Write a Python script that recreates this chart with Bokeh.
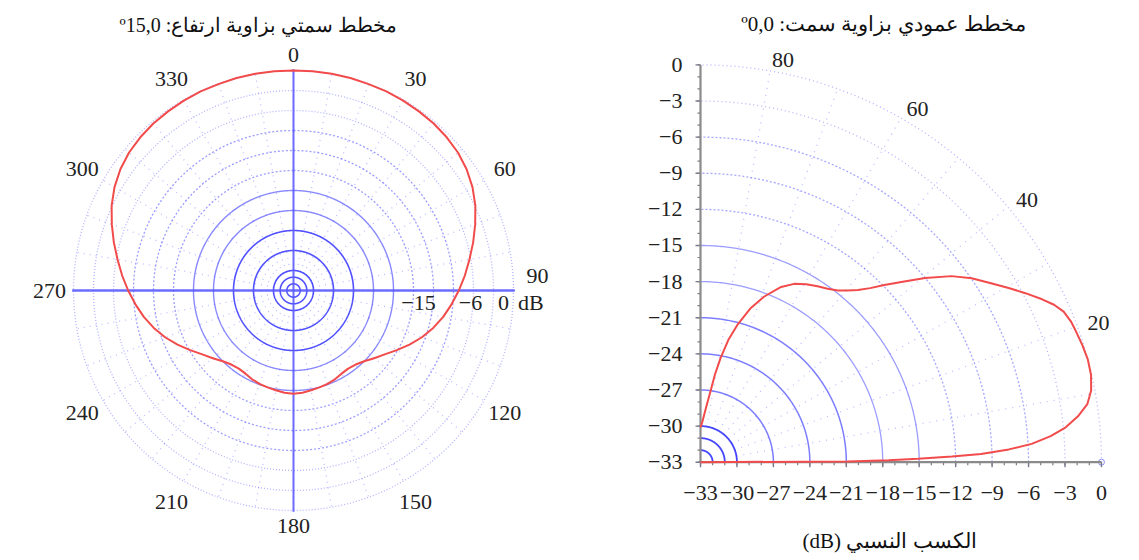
import numpy as np
from bokeh.plotting import figure
from bokeh.layouts import row
from bokeh.core.properties import value
from bokeh.embed import file_html
from bokeh.resources import INLINE

# ---------------- data ----------------
DB_MIN = -33.0

AZ_ANGLES = list(range(0, 360, 5))
AZ_GAIN = [0.0, 0.0, 0.0, 0.0, -0.05, -0.05, -0.1, -0.2, -0.3, -0.5, -0.8, -1.3,
           -2.0, -2.9, -4.0, -5.1, -6.2, -7.2, -8.2, -9.2, -10.2, -11.3, -12.5, -13.8,
           -15.1, -16.3, -17.2, -18.0, -18.5, -18.7, -18.6, -18.3, -18.1, -17.95, -17.8, -17.6,
           -17.5,
           -17.6, -17.8, -17.95, -18.1, -18.3, -18.6, -18.7, -18.5, -18.0, -17.2, -16.3, -15.1,
           -13.8, -12.5, -11.3, -10.2, -9.2, -8.2, -7.2, -6.2, -5.1, -4.0, -2.9, -2.0,
           -1.3, -0.8, -0.5, -0.3, -0.2, -0.1, -0.05, -0.05, 0.0, 0.0, 0.0]

AZ_LABEL_ANGLES = [0, 30, 60, 90, 120, 150, 180, 210, 240, 270, 300, 330]
AZ_LABELS = ["0", "30", "60", "90", "120", "150", "180", "210", "240", "270", "300", "330"]

RING_DB = [-32, -31, -30, -27, -24, -21, -18, -15, -12, -9, -6, -3, 0]
RING_LABEL_DB = [-15, -6, 0]
RING_LABELS = ["\u221215", "\u22126", "0"]

EL_ANGLES = [0, 0.3, 0.6, 0.9, 1.3, 1.7, 2.4, 3.2, 4.3, 5.5, 7.0, 8.6, 10.5, 12.7, 15.0,
             17.2, 19.5, 21.0, 22.7, 24.2, 25.7, 27.7, 29.7, 32.0, 34.4, 36.8, 39.6, 42.0,
             44.2, 46.0, 47.8, 49.7, 51.6, 54.0, 56.6, 59.5, 62.5, 65.5, 69.2, 72.2, 75.1,
             77.3, 79.2, 80.7, 82.0, 84.0, 86.0, 88.0, 90.0]
EL_GAIN = [-33.0, -20.9, -17.5, -15.1, -12.3, -9.9, -7.6, -5.7, -4.1, -2.8, -1.7, -0.8, -0.3,
           -0.05, 0.0, -0.1, -0.25, -0.35, -0.6, -1.1, -1.8, -2.8, -3.8, -4.9, -5.95, -7.2,
           -9.0, -10.6, -11.9, -12.9, -13.7, -14.3, -14.8, -15.2, -15.5, -15.85, -16.3, -17.0,
           -18.3, -19.6, -21.2, -22.6, -24.2, -25.6, -27.0, -28.3, -29.2, -29.8, -30.1]
EL_LABEL_ANGLES = [80, 60, 40, 20]
EL_LABELS = ["80", "60", "40", "20"]
EL_SPOKES = [10, 20, 30, 40, 50, 60, 70, 80]

TICKS = list(range(-33, 1, 3))
MINOR_TICKS = list(range(-33, 1, 1))
TICK_LABELS = [("\u2212%d" % -t if t < 0 else "0") for t in TICKS]

LEFT_TITLE = "مخطط سمتي بزاوية ارتفاع: º15,0"
RIGHT_TITLE = "مخطط عمودي بزاوية سمت: º0,0"
X_LABEL = "الكسب النسبي (dB)"


def rtl(s):
    return "\u202b" + s + "\u202c"


BLUE = "#2626ff"
RED = "#f24b4b"
SERIF = "Liberation Serif"
FS = "22px"
TXT = "#222222"

# ---------------- left: azimuth polar ----------------
S = 20.0 / 3.0  # px per dB
p1 = figure(width=590, height=560, x_range=(-293 / S, 297 / S), y_range=(-270 / S, 290 / S),
            output_backend="svg", toolbar_location=None, x_axis_type=None, y_axis_type=None,
            min_border=0, min_border_left=0, min_border_right=0, min_border_top=0, min_border_bottom=0)
p1.grid.visible = False
p1.outline_line_color = None

t = np.linspace(0, 2 * np.pi, 721)
rings = [d - DB_MIN for d in RING_DB]
groups = [([r for r in rings if r <= 9], 0.8, 1.6, "solid"),
          ([r for r in rings if 9 < r <= 15], 0.55, 1.4, "solid"),
          ([r for r in rings if 15 < r <= 24], 0.45, 1.3, "2 2"),
          ([r for r in rings if r > 24], 0.35, 1.3, "1 2")]
for rs, a, w, dash in groups:
    if rs:
        p1.multi_line([list(r * np.sin(t)) for r in rs], [list(r * np.cos(t)) for r in rs],
                      line_color=BLUE, line_alpha=a, line_width=w, line_dash=dash)

sp = np.radians(np.arange(0, 360, 10))
p1.segment(x0=3 * np.sin(sp), y0=3 * np.cos(sp), x1=33 * np.sin(sp), y1=33 * np.cos(sp),
           line_color=BLUE, line_alpha=0.3, line_width=1.3, line_dash="1 5")

R_AX = 33.2
p1.segment(x0=[-R_AX], y0=[0], x1=[R_AX], y1=[0], line_color="#5c5cff", line_width=2.6, line_alpha=0.9)
p1.segment(x0=[0], y0=[-R_AX], x1=[0], y1=[R_AX], line_color="#5c5cff", line_width=2.0, line_alpha=0.9)

az = np.radians(AZ_ANGLES + [AZ_ANGLES[0]])
ar = np.array(AZ_GAIN + [AZ_GAIN[0]]) - DB_MIN
p1.line(ar * np.sin(az), ar * np.cos(az), line_color=RED, line_width=2)

la = np.radians(AZ_LABEL_ANGLES)
lr = np.array([35.3 if a in (0, 180) else 36.6 for a in AZ_LABEL_ANGLES])
ldy = np.array([2.2 if a == 90 else 0.0 for a in AZ_LABEL_ANGLES])
p1.text(x=lr * np.sin(la), y=lr * np.cos(la) + ldy, text=AZ_LABELS, text_font=value(SERIF),
        text_font_size=FS, text_color=TXT, text_align="center", text_baseline="middle")

rl_x = np.array([d - DB_MIN for d in RING_LABEL_DB]) + np.array([0.75, -0.45, -1.5])
p1.text(x=rl_x, y=[-1.8] * 3, text=RING_LABELS, text_font=value(SERIF), text_font_size=FS,
        text_color=TXT, text_align="center", text_baseline="middle")
p1.text(x=[35.6], y=[-1.8], text=["dB"], text_font=value(SERIF), text_font_size=FS,
        text_color=TXT, text_align="center", text_baseline="middle")

p1.text(x=[(258 - 293) / S], y=[(290 - 24) / S], text=[rtl(LEFT_TITLE)], text_font=value(SERIF),
        text_font_size="20px", text_color="#111111", text_align="center", text_baseline="middle")

# ---------------- right: elevation quarter-polar ----------------
SX, SY = 12.15, 12.04
OX, OY = 110, 461.7  # origin position inside this figure (px)
p2 = figure(width=549, height=560,
            x_range=(-33 - OX / SX, -33 + (549 - OX) / SX),
            y_range=(-33 - (560 - OY) / SY, -33 + OY / SY),
            output_backend="svg", toolbar_location=None, x_axis_type=None, y_axis_type=None,
            min_border=0, min_border_left=0, min_border_right=0, min_border_top=0, min_border_bottom=0)
p2.grid.visible = False
p2.outline_line_color = None

q = np.linspace(0, np.pi / 2, 181)
groups2 = [([r for r in rings if r <= 3], 0.85, 1.8, "solid"),
           ([r for r in rings if 3 < r <= 12], 0.6, 1.5, "solid"),
           ([r for r in rings if 12 < r <= 18], 0.45, 1.3, "solid"),
           ([r for r in rings if 18 < r <= 27], 0.4, 1.3, "2 2"),
           ([r for r in rings if r > 27], 0.35, 1.3, "1 3")]
for rs, a, w, dash in groups2:
    if rs:
        p2.multi_line([list(DB_MIN + r * np.cos(q)) for r in rs], [list(DB_MIN + r * np.sin(q)) for r in rs],
                      line_color=BLUE, line_alpha=a, line_width=w, line_dash=dash)

es = np.radians(EL_SPOKES)
p2.segment(x0=DB_MIN + 3 * np.cos(es), y0=DB_MIN + 3 * np.sin(es), x1=DB_MIN + 33 * np.cos(es),
           y1=DB_MIN + 33 * np.sin(es), line_color=BLUE, line_alpha=0.3, line_width=1.3, line_dash="1 6")
p2.scatter(x=[0], y=[DB_MIN], marker="circle", size=6, fill_color=None, line_color=BLUE, line_alpha=0.5)

# axes (drawn from the tick arrays)
AX_COL = "#8a8a8a"
mt = np.array(MINOR_TICKS, dtype=float)
tk = np.array(TICKS, dtype=float)
p2.segment(x0=mt, y0=DB_MIN, x1=mt, y1=DB_MIN - 3 / SY, line_color="#7a7a8a", line_width=1.2)
p2.segment(x0=DB_MIN, y0=mt, x1=DB_MIN - 3 / SX, y1=mt, line_color="#7a7a8a", line_width=1.2)
p2.segment(x0=tk, y0=DB_MIN, x1=tk, y1=DB_MIN - 5 / SY, line_color="#7a7a8a", line_width=1.4)
p2.segment(x0=DB_MIN, y0=tk, x1=DB_MIN - 5 / SX, y1=tk, line_color="#7a7a8a", line_width=1.4)
p2.segment(x0=[DB_MIN, DB_MIN], y0=[DB_MIN, DB_MIN], x1=[0, DB_MIN], y1=[DB_MIN, 0],
           line_color=AX_COL, line_width=2.2)

el = np.radians(EL_ANGLES)
er = np.array(EL_GAIN) - DB_MIN
p2.line(DB_MIN + er * np.cos(el), DB_MIN + er * np.sin(el), line_color=RED, line_width=2)

p2.text(x=tk, y=[DB_MIN - 31 / SY] * len(TICKS), text=TICK_LABELS, text_font=value(SERIF),
        text_font_size=FS, text_color=TXT, text_align="center", text_baseline="middle")
p2.text(x=[DB_MIN - 18 / SX] * len(TICKS), y=tk, text=TICK_LABELS, text_font=value(SERIF),
        text_font_size=FS, text_color=TXT, text_align="right", text_baseline="middle")

ela = np.radians(EL_LABEL_ANGLES)
p2.text(x=DB_MIN + 33.9 * np.cos(ela), y=DB_MIN + 33.9 * np.sin(ela), text=EL_LABELS,
        text_font=value(SERIF), text_font_size=FS, text_color=TXT,
        text_align="left", text_baseline="middle")

p2.text(x=[(883 - 590 - OX) / SX - 33], y=[-33 + (OY - 23) / SY], text=[rtl(RIGHT_TITLE)],
        text_font=value(SERIF), text_font_size="21px", text_color="#111111",
        text_align="center", text_baseline="middle")
p2.text(x=[(889 - 590 - OX) / SX - 33], y=[-33 - (540 - OY) / SY], text=[rtl(X_LABEL)],
        text_font=value(SERIF), text_font_size="21px", text_color="#111111",
        text_align="center", text_baseline="middle")

layout = row(p1, p2)
open("out.html", "w").write(file_html(layout, INLINE))
